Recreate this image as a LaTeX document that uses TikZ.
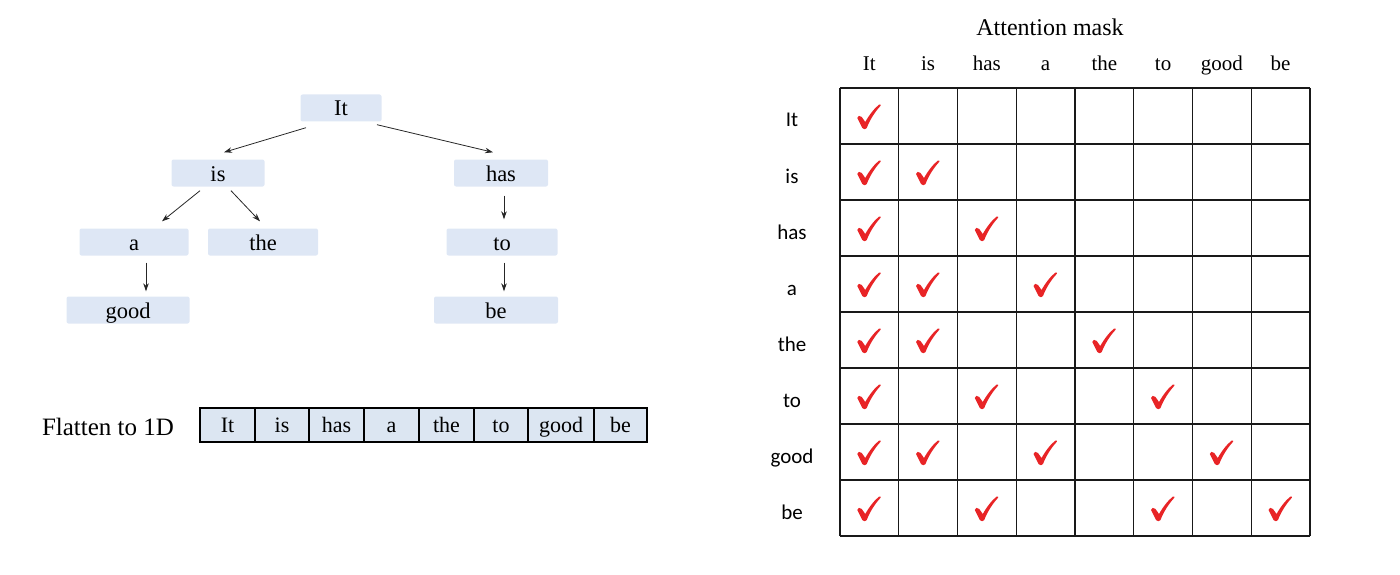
\documentclass[tikz,border=0pt]{standalone}
\usepackage{fontspec}
\setmainfont{Liberation Serif}
\newfontfamily\rowfont{Carlito}
\usetikzlibrary{arrows.meta,positioning,calc}

\definecolor{boxblue}{RGB}{222,231,245}
\definecolor{barblue}{RGB}{220,230,242}
\definecolor{checkred}{RGB}{232,36,38}

\tikzset{
  treebox/.style={fill=boxblue, rounded corners=2pt, minimum height=27pt, inner sep=0pt, text height=17.5pt, text depth=1.5pt, font=\fontsize{22.5}{26}\selectfont},
  treearrow/.style={-{Stealth[length=8pt,width=5.5pt]}, line width=0.8pt, draw=black!85},
  barcell/.style={draw, fill=barblue, line width=1.2pt, minimum height=34pt, inner sep=0pt, outer sep=0pt, text height=17pt, text depth=2pt, font=\fontsize{22}{26}\selectfont},
  colhead/.style={font=\fontsize{21}{24}\selectfont, inner sep=0pt, anchor=base},
  rowhead/.style={font=\rowfont\fontsize{21}{24}\selectfont, inner sep=0pt, anchor=base},
  gridline/.style={line width=1.3pt, draw=black!90},
  checkmark/.pic={
    \fill [checkred, yscale=-1] (-11.5,1) .. controls (-11.5,-1.5) and (-8.5,-2) .. (-7,0) -- (-3.5,5)
      .. controls (1,-3) and (6,-9) .. (10.5,-12.5) .. controls (11.5,-13) and (12.5,-12) .. (11.8,-11.2)
      .. controls (6,-5) and (0.5,4) .. (-2,11) .. controls (-2.5,12.5) and (-5.5,12.8) .. (-6.5,11) -- cycle;
  }
}

\begin{document}
\begin{tikzpicture}[x=1pt,y=1pt,yscale=-1,xscale=1]
\useasboundingbox (0,0) rectangle (1400,575);

% Tree nodes
\node [treebox, minimum width=81pt] (It) at (341,108) {It};
\node [treebox, minimum width=93pt] (is) at (218,173) {is};
\node [treebox, minimum width=94pt] (has) at (501,173) {has};
\node [treebox, minimum width=109pt] (a) at (134,242) {a};
\node [treebox, minimum width=110pt] (the) at (263,242) {the};
\node [treebox, minimum width=111pt] (to) at (502,242) {to};
\node [treebox, minimum width=123pt] (good) at (128,310) {good};
\node [treebox, minimum width=124pt] (be) at (496,310) {be};

% Tree arrows
\draw [treearrow] ($(It.south)+(-35,6)$) -- ($(is.north)+(6,-7)$);
\draw [treearrow] ($(It.south)+(36,3)$) -- ($(has.north)+(-8,-7)$);
\draw [treearrow] ($(is.south)+(-18,4)$) -- ($(a.north)+(28,-7)$);
\draw [treearrow] ($(is.south)+(13,4)$) -- ($(the.north)+(-3,-7)$);
\draw [treearrow] ($(has.south)+(3,9)$) -- ($(to.north)+(2,-9)$);
\draw [treearrow] ($(a.south)+(12,7)$) -- ($(good.north)+(18,-5)$);
\draw [treearrow] ($(to.south)+(2,7)$) -- ($(be.north)+(8,-5)$);

% Flatten to 1D
\node [font=\fontsize{25}{28}\selectfont, inner sep=0pt, anchor=base] (flat) at (108,435) {Flatten to 1D};
\node [barcell, minimum width=55pt, anchor=west] (f1) at (200,425) {It};
\node [barcell, minimum width=54pt, right=0pt of f1] (f2) {is};
\node [barcell, minimum width=55pt, right=0pt of f2] (f3) {has};
\node [barcell, minimum width=55pt, right=0pt of f3] (f4) {a};
\node [barcell, minimum width=55pt, right=0pt of f4] (f5) {the};
\node [barcell, minimum width=54pt, right=0pt of f5] (f6) {to};
\node [barcell, minimum width=66pt, right=0pt of f6] (f7) {good};
\node [barcell, minimum width=53pt, right=0pt of f7] (f8) {be};

% Attention mask
\node [font=\fontsize{24}{28}\selectfont, inner sep=0pt, anchor=base] (title) at (1050,36) {Attention mask};
\foreach \w [count=\c] in {It,is,has,a,the,to,good,be} {
  \node [colhead] (col-\c) at (840+58.75*\c-29.4,71) {\w};
  \node [rowhead] (row-\c) at (792,88+56*\c-17) {\w};
  \draw [gridline] (840+58.75*\c-58.75,88) -- (840+58.75*\c-58.75,536);
  \draw [gridline] (840,88+56*\c-56) -- (1310,88+56*\c-56);
}
\draw [gridline] (1310,88) -- (1310,536);
\draw [gridline] (840,536) -- (1310,536);

% Check marks
\foreach \r/\cols in {1/{1},2/{1,2},3/{1,3},4/{1,2,4},5/{1,2,5},6/{1,3,6},7/{1,2,4,7},8/{1,3,6,8}} {
  \foreach \c in \cols {
    \pic (chk-\r-\c) at (840+58.75*\c-30,88+56*\r-27) {checkmark};
  }
}

\end{tikzpicture}
\end{document}
